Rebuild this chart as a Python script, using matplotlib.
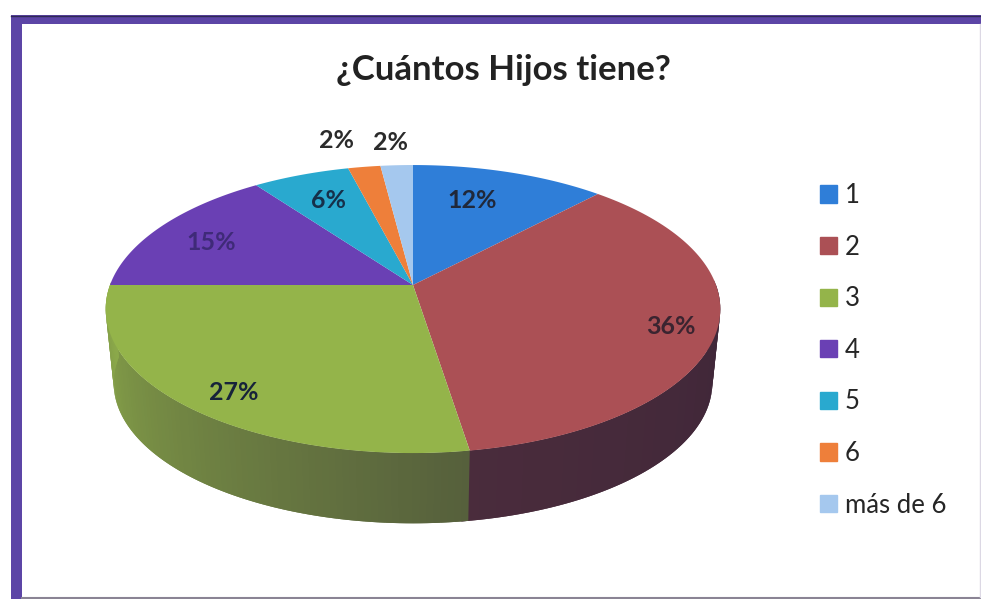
import numpy as np
import matplotlib
matplotlib.use('Agg')
import matplotlib.pyplot as plt
from matplotlib.patches import Patch, Rectangle

plt.rcParams['font.family'] = ['Lato', 'DejaVu Sans']

categories = ['1', '2', '3', '4', '5', '6', 'más de 6']
shares = [12, 35.5, 27.5, 15, 6, 2, 2]
pct_labels = ['12%', '36%', '27%', '15%', '6%', '2%', '2%']
colors = ['#2f7ed8', '#ab5055', '#94b44a', '#6a40b4', '#29a9cf', '#ee7f3a', '#a5c8ee']

title = '¿Cuántos Hijos tiene?'

# pie geometry in pixels
CX, CY = 413, 285
R, A, B = 303, 140, 0.167   # perspective of the top face
MID_Y = 309                 # middle of the top ellipse
BOTTOM_Y = 383              # middle of the bottom ellipse
BOTTOM_SCALE = 0.974        # bottom rim is a bit smaller


def project(theta):
    # theta runs clockwise from 12 o'clock
    s, c = np.cos(theta), np.sin(theta)
    w = 1 + B * s
    return CX + R * c / w, CY - A * s / w


def project_bottom(theta):
    x, y = project(theta)
    return CX + (x - CX) * BOTTOM_SCALE, BOTTOM_Y + (y - MID_Y) * BOTTOM_SCALE


def side_color(i, t):
    # only slices 2 and 3 show a side, t goes 0..1 along the slice
    if i == 1:
        start, end = np.array([62, 38, 56]), np.array([74, 44, 60])
    else:
        start, end = np.array([86, 96, 60]), np.array([140, 170, 74])
    return (start + (end - start) * t) / 255


fig = plt.figure(figsize=(9.81, 5.99), dpi=100)
ax = fig.add_axes([0, 0, 1, 1])
ax.set_xlim(0, 981)
ax.set_ylim(599, 0)
ax.axis('off')

# scanned frame: heavy left and top, hardly anything right and bottom
ax.add_patch(Rectangle((11, 15), 11, 584, fc='#5c45a6', ec='none', zorder=1))
ax.add_patch(Rectangle((11, 15), 970, 9, fc='#5c45a6', ec='none', zorder=1))
ax.plot([11, 981], [15.5, 15.5], color='#2f2a55', lw=1, zorder=1)
ax.plot([22, 981], [597.5, 597.5], color='#8a8494', lw=1.5, zorder=1)
ax.plot([979.5, 979.5], [24, 597], color='#dcd8e4', lw=1, zorder=1)

edges = np.radians(np.cumsum([0] + shares) * 3.6)

# side wall first, top face goes over it
for i in (1, 2):
    th = np.linspace(edges[i], edges[i + 1] + 0.02, 90)
    th = th[np.cos(th) < 0.05]
    for j in range(len(th) - 1):
        # run into the next quad so no seam shows, the next one paints over it
        k = min(j + 2, len(th) - 1)
        x0, y0 = project(th[j])
        x1, y1 = project(th[k])
        bx0, by0 = project_bottom(th[j])
        bx1, by1 = project_bottom(th[k])
        ax.fill([x0, x1, bx1, bx0], [y0, y1, by1, by0], color=side_color(i, j / (len(th) - 1)), lw=0, zorder=2)

for i in range(len(shares)):
    th = np.linspace(edges[i], edges[i + 1], 120)
    xs, ys = project(th)
    ax.fill(np.r_[CX, xs], np.r_[CY, ys], color=colors[i], lw=0, zorder=3)

label_xy = [(472, 200), (671, 327), (234, 392), (211, 242), (328, 200), (337, 140), (390, 142)]
label_colors = ['#20283a', '#3a2430', '#16233a', '#3f2a78', '#16304a', '#2b2b2b', '#2b2b2b']
for txt, (lx, ly), lc in zip(pct_labels, label_xy, label_colors):
    ax.text(lx, ly, txt, ha='center', va='center', fontsize=18, fontweight='bold', color=lc, zorder=4)

ax.text(503, 70, title, ha='center', va='center', fontsize=25, fontweight='bold', color='#222222')

handles = [Patch(color=c, label=n) for c, n in zip(colors, categories)]
ax.legend(handles=handles, loc='upper left', bbox_to_anchor=(820 / 981, 1 - 183 / 599), frameon=False,
          fontsize=18.5, labelcolor='#262626', handlelength=0.66, handleheight=0.66,
          handletextpad=0.31, labelspacing=1.035, borderaxespad=0, borderpad=0)

fig.savefig('out.png', dpi=100, facecolor='white')
